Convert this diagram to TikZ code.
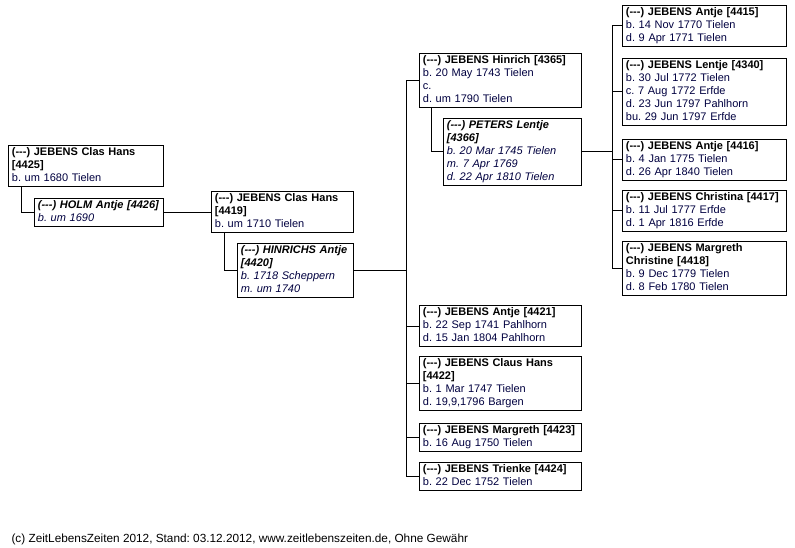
\documentclass[tikz,border=0pt]{standalone}
\usepackage{fontspec}
\setmainfont{Liberation Sans}
\usetikzlibrary{calc}

\definecolor{datecol}{RGB}{0,0,64}
\newcommand{\hd}[1]{\textcolor{black}{\textbf{#1}}}
\newcommand{\nn}{(-{}-{}-)}
\frenchspacing

\begin{document}
\begin{tikzpicture}[x=1pt, y=-1pt,
		person/.style={draw, line width=0.8pt, anchor=north west, align=left,
			inner xsep=3.5pt, inner ysep=1pt, text=datecol, text width=#1,
			font=\fontsize{11}{13}\selectfont,
			execute at begin node=\strut, execute at end node=\strut},
		spouse/.style={person=#1, font=\fontsize{11}{13}\selectfont\itshape},
		link/.style={line width=0.8pt}]
		
		% page
		\fill[white] (0,0) rectangle (795,548);
		\useasboundingbox (0,0) rectangle (795,548);
		
		% grandparents
		\node[person=148pt] (p4425) at (8,145) {\hd{\nn{} JEBENS Clas Hans}\\ \hd{[4425]}\\ b. um 1680 Tielen};
		\node[spouse=122pt] (p4426) at (34,198) {\hd{\nn{} HOLM Antje [4426]}\\ b. um 1690};
		
		% parents
		\node[person=135pt] (p4419) at (211,191) {\hd{\nn{} JEBENS Clas Hans}\\ \hd{[4419]}\\ b. um 1710 Tielen};
		\node[spouse=109pt] (p4420) at (237,243) {\hd{\nn{} HINRICHS Antje}\\ \hd{[4420]}\\ b. 1718 Scheppern\\ m. um 1740};
		
		% children
		\node[person=155pt] (p4365) at (419,53) {\hd{\nn{} JEBENS Hinrich [4365]}\\ b. 20 May 1743 Tielen\\ c.\\ d. um 1790 Tielen};
		\node[spouse=131pt] (p4366) at (443,118) {\hd{\nn{} PETERS Lentje}\\ \hd{[4366]}\\ b. 20 Mar 1745 Tielen\\ m. 7 Apr 1769\\ d. 22 Apr 1810 Tielen};
		\node[person=155pt] (p4421) at (419,305) {\hd{\nn{} JEBENS Antje [4421]}\\ b. 22 Sep 1741 Pahlhorn\\ d. 15 Jan 1804 Pahlhorn};
		\node[person=155pt] (p4422) at (419,356) {\hd{\nn{} JEBENS Claus Hans}\\ \hd{[4422]}\\ b. 1 Mar 1747 Tielen\\ d. 19,9,1796 Bargen};
		\node[person=155pt] (p4423) at (419,423) {\hd{\nn{} JEBENS Margreth [4423]}\\ b. 16 Aug 1750 Tielen};
		\node[person=155pt] (p4424) at (419,462) {\hd{\nn{} JEBENS Trienke [4424]}\\ b. 22 Dec 1752 Tielen};
		
		% grandchildren
		\node[person=157pt] (p4415) at (622,5) {\hd{\nn{} JEBENS Antje [4415]}\\ b. 14 Nov 1770 Tielen\\ d. 9 Apr 1771 Tielen};
		\node[person=157pt] (p4340) at (622,58) {\hd{\nn{} JEBENS Lentje [4340]}\\ b. 30 Jul 1772 Tielen\\ c. 7 Aug 1772 Erfde\\ d. 23 Jun 1797 Pahlhorn\\ bu. 29 Jun 1797 Erfde};
		\node[person=157pt] (p4416) at (622,139) {\hd{\nn{} JEBENS Antje [4416]}\\ b. 4 Jan 1775 Tielen\\ d. 26 Apr 1840 Tielen};
		\node[person=157pt] (p4417) at (622,190) {\hd{\nn{} JEBENS Christina [4417]}\\ b. 11 Jul 1777 Erfde\\ d. 1 Apr 1816 Erfde};
		\node[person=157pt] (p4418) at (622,241) {\hd{\nn{} JEBENS Margreth}\\ \hd{Christine [4418]}\\ b. 9 Dec 1779 Tielen\\ d. 8 Feb 1780 Tielen};
		
		% couples
		\draw[link] ($(p4425.south west)!0.5!(p4425.south west -| p4426.west)$) |- (p4426.west);
		\draw[link] ($(p4419.south west)!0.5!(p4419.south west -| p4420.west)$) |- (p4420.west);
		\draw[link] ($(p4365.south west)!0.5!(p4365.south west -| p4366.west)$) |- (p4366.west);
		\draw[link] (p4426.east) -- (p4426.east -| p4419.west);
		
		% children lines
		\draw[link] (p4420.east) -- ($(p4420.east -| p4365.west)+(-13,0)$) coordinate (j1);
		\foreach \c in {p4365,p4421,p4422,p4423,p4424}
		\draw[link] (j1) |- (\c.west);
		\draw[link] (p4366.east) -- ($(p4366.east -| p4415.west)+(-10,0)$) coordinate (j2);
		\foreach \c in {p4415,p4340,p4416,p4417,p4418}
		\draw[link] (j2) |- (\c.west);
		
		% footer
		\node[anchor=base west, font=\fontsize{11.8}{13}\selectfont] (footer) at (8,542) {(c) ZeitLebensZeiten 2012, Stand: 03.12.2012, www.zeitlebenszeiten.de, Ohne Gewähr};
		
	\end{tikzpicture}
\end{document}
